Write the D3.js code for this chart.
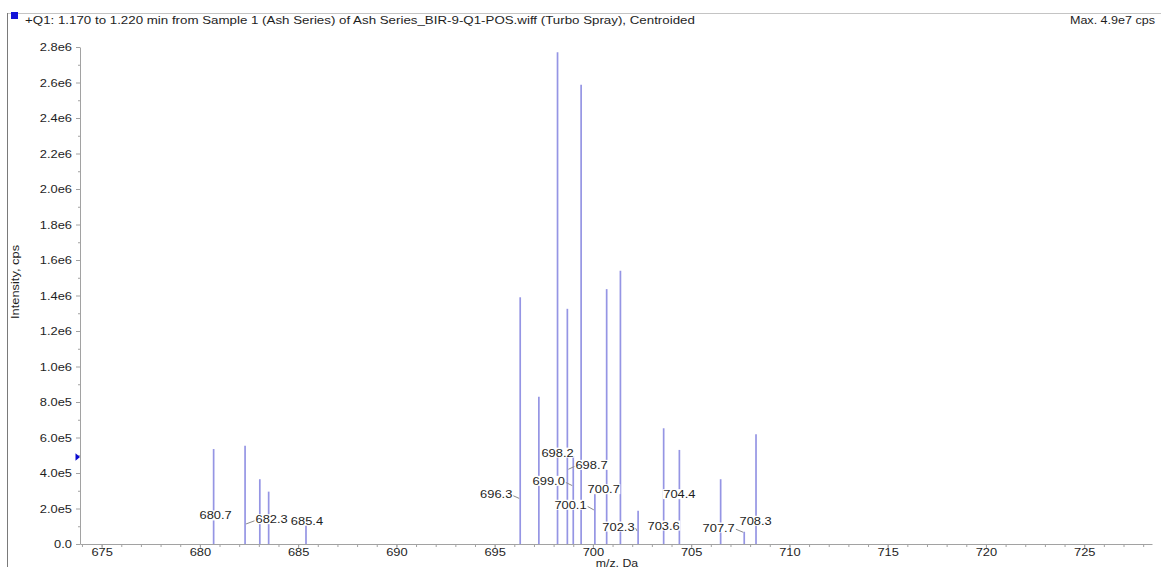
<!DOCTYPE html>
<html>
<head>
<meta charset="utf-8">
<script src="https://cdn.jsdelivr.net/npm/d3@7"></script>
<style>
  html, body { margin: 0; padding: 0; background: #fff; overflow: hidden; }
  svg { display: block; font-family: "Liberation Sans", Arial, sans-serif; }
</style>
</head>
<body>
<svg id="chart" width="1161" height="567"></svg>
<script>
// ---- text ----
const titleText = "+Q1: 1.170 to 1.220 min from Sample 1 (Ash Series) of Ash Series_BIR-9-Q1-POS.wiff (Turbo Spray), Centroided";
const maxText = "Max. 4.9e7 cps";
const xTitle = "m/z, Da";
const yTitle = "Intensity, cps";

// ---- centroided peaks (m/z, intensity in cps) ----
const peakMz = [680.7, 682.3, 683.05, 683.5, 685.4,
                696.3, 697.25, 698.2, 698.7, 699.0, 699.4, 700.1, 700.7, 701.4, 702.3,
                703.6, 704.4, 706.5, 707.7, 708.3];
const peakIntensity = [5.35e5, 5.54e5, 3.65e5, 2.95e5, 1.07e5,
                       1.39e6, 8.3e5, 2.77e6, 1.325e6, 4.96e5, 2.587e6, 3.0e5, 1.436e6, 1.539e6, 1.88e5,
                       6.52e5, 5.3e5, 3.65e5, 6.9e4, 6.18e5];

// ---- annotated peaks ----
const labeledMz = [680.7, 682.3, 685.4, 696.3, 698.2, 698.7, 699.0, 700.7, 700.1, 702.3, 703.6, 704.4, 707.7, 708.3];

// label placement (data units of the label centre) and leader end height
const labelAtMz        = [680.8, 683.65, 685.45, 695.08, 698.2, 699.93, 697.75, 700.55, 698.86, 701.3, 703.6, 704.4, 706.4, 708.28];
const labelAtIntensity = [1.60e5, 1.39e5, 1.30e5, 2.80e5, 5.14e5, 4.45e5, 3.55e5, 3.08e5, 2.20e5, 0.975e5, 1.03e5, 2.80e5, 0.92e5, 1.30e5];
const leaderToIntensity = [null, 1.13e5, null, 2.57e5, null, 4.21e5, 3.29e5, null, 1.92e5, 0.73e5, null, null, 0.66e5, null];

// ---- axes ----
const xDomain = [673.9, 728.45];
const yDomain = [0, 2.8e6];
const xTickValues = [675, 680, 685, 690, 695, 700, 705, 710, 715, 720, 725];
const xMinorTickValues = d3.range(674, 729, 1);
const yTickValues = [0, 2e5, 4e5, 6e5, 8e5, 1.0e6, 1.2e6, 1.4e6, 1.6e6, 1.8e6, 2.0e6, 2.2e6, 2.4e6, 2.6e6, 2.8e6];
const yMinorTickValues = d3.range(1e5, 2.8e6, 2e5);
const thresholdIntensity = 4.9e5;

// ---- drawing ----
const svg = d3.select("#chart");
const W = 1161, H = 567;
const plot = { left: 80, right: 1152, top: 47, bottom: 544 };
const STRETCH = 1.17;
const textColor = "#1e1e1e";
const axisColor = "#a2a2a2";
const peakColor = "#9595e4";

function widen(sel, k) {
  sel.each(function () {
    const n = this.getComputedTextLength();
    if (n > 0) {
      this.setAttribute("textLength", n * k);
      this.setAttribute("lengthAdjust", "spacingAndGlyphs");
    }
  });
}

svg.append("rect").attr("width", W).attr("height", H).attr("fill", "#fff");

// pane frame
svg.append("line").attr("x1", 7).attr("x2", W).attr("y1", 13.5).attr("y2", 13.5)
  .attr("stroke", "#c4c4c4").attr("stroke-width", 1);
svg.append("line").attr("x1", 7.5).attr("x2", 7.5).attr("y1", 13).attr("y2", H)
  .attr("stroke", "#7a7a7a").attr("stroke-width", 1);

// header
svg.append("rect").attr("x", 11).attr("y", 12).attr("width", 7).attr("height", 7).attr("fill", "#1414d8");
svg.append("text").attr("x", 25).attr("y", 23.5).attr("font-size", 11).attr("fill", textColor)
  .text(titleText).call(widen, 1.21);
svg.append("text").attr("x", 1155).attr("y", 23.5).attr("font-size", 11).attr("fill", textColor)
  .attr("text-anchor", "end").text(maxText).call(widen, 1.14);

const x = d3.scaleLinear().domain(xDomain).range([plot.left, plot.right]);
const y = d3.scaleLinear().domain(yDomain).range([plot.bottom, plot.top]);

const fmtY = v => v === 0 ? "0.0" : d3.format(".1e")(v).replace("e+", "e");

// x axis
const gx = svg.append("g").attr("transform", `translate(0,${plot.bottom})`);
gx.append("g").call(d3.axisBottom(x).tickValues(xMinorTickValues).tickSize(3).tickSizeOuter(0).tickFormat(""))
  .call(g => g.select(".domain").remove());
gx.append("g").call(d3.axisBottom(x).tickValues(xTickValues).tickSize(4).tickSizeOuter(0).tickFormat(d3.format("d")));
gx.selectAll("path,line").attr("stroke", axisColor);
gx.selectAll("text").attr("y", 4.5).attr("font-size", 11).attr("font-family", "Liberation Sans, Arial, sans-serif")
  .attr("fill", textColor).call(widen, STRETCH);

// y axis
const gy = svg.append("g").attr("transform", `translate(${plot.left},0)`);
gy.append("g").call(d3.axisLeft(y).tickValues(yMinorTickValues).tickSize(2).tickSizeOuter(0).tickFormat(""))
  .call(g => g.select(".domain").remove());
gy.append("g").call(d3.axisLeft(y).tickValues(yTickValues).tickSize(4).tickPadding(4).tickSizeOuter(0).tickFormat(fmtY));
gy.selectAll("path,line").attr("stroke", axisColor);
gy.selectAll("text").attr("font-size", 11).attr("font-family", "Liberation Sans, Arial, sans-serif")
  .attr("fill", textColor).call(widen, STRETCH);

// axis titles
svg.append("text").attr("transform", `translate(19,282) rotate(-90)`).attr("text-anchor", "middle")
  .attr("font-size", 11).attr("fill", textColor).text(yTitle).call(widen, STRETCH);
svg.append("text").attr("x", 617).attr("y", 566.5).attr("text-anchor", "middle")
  .attr("font-size", 10.5).attr("fill", textColor).text(xTitle).call(widen, STRETCH);

// threshold marker on the intensity axis
const ty = y(thresholdIntensity);
svg.append("path")
  .attr("d", `M${plot.left - 4.5},${ty - 3.8}L${plot.left},${ty}L${plot.left - 4.5},${ty + 3.8}Z`)
  .attr("fill", "#0a0ad0");

// peak sticks
const peaks = peakMz.map((m, i) => ({ mz: m, intensity: peakIntensity[i] }));
svg.append("g").selectAll("line").data(peaks).join("line")
  .attr("x1", d => x(d.mz)).attr("x2", d => x(d.mz))
  .attr("y1", y(0)).attr("y2", d => y(d.intensity))
  .attr("stroke", peakColor).attr("stroke-width", 1.7);

// peak annotations
const labels = labeledMz.map((m, i) => ({
  mz: m, text: d3.format(".1f")(m),
  lx: labelAtMz[i], ly: labelAtIntensity[i], to: leaderToIntensity[i]
}));
const gl = svg.append("g");
const leaderG = gl.append("g");
const bgG = gl.append("g");
const txtG = gl.append("g");

labels.forEach(d => {
  const t = txtG.append("text")
    .attr("x", x(d.lx)).attr("y", y(d.ly)).attr("dy", "0.35em")
    .attr("text-anchor", "middle").attr("font-size", 11).attr("fill", textColor)
    .text(d.text);
  widen(t, STRETCH);
  const b = t.node().getBBox();
  bgG.append("rect").attr("x", b.x - 0.5).attr("y", b.y + 1).attr("width", b.width + 1).attr("height", b.height - 2)
    .attr("fill", "#fff");
  if (d.to !== null) {
    const px = x(d.mz);
    const right = px > x(d.lx);
    const sx = right ? b.x + b.width + 1 : b.x - 1;
    leaderG.append("line")
      .attr("x1", sx).attr("y1", y(d.ly) + 1.5)
      .attr("x2", right ? px - 1 : px + 1).attr("y2", y(d.to))
      .attr("stroke", "#8a8a8a").attr("stroke-width", 1);
  }
});
</script>
</body>
</html>
